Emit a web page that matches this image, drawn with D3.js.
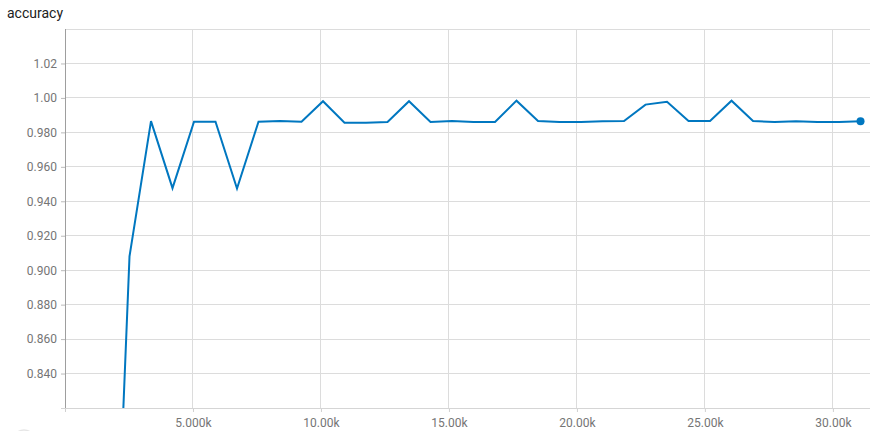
<!DOCTYPE html>
<html><head><meta charset="utf-8">
<script src="https://cdn.jsdelivr.net/npm/d3@7"></script>
<style>body{margin:0;background:#fff;}svg{display:block;font-family:Roboto,"Helvetica Neue",Arial,sans-serif;}</style>
</head><body>
<svg id="chart" width="872" height="431"></svg>
<script>
const steps = [1680, 2520, 3360, 4200, 5040, 5880, 6720, 7560, 8400, 9240, 10080, 10920, 11760, 12600, 13440, 14280, 15120, 15960, 16800, 17640, 18480, 19320, 20160, 21000, 21840, 22680, 23520, 24360, 25200, 26040, 26880, 27720, 28560, 29400, 30240, 31080];
const accuracy = [0.60, 0.908, 0.9865, 0.9476, 0.9862, 0.9862, 0.9474, 0.9862, 0.9866, 0.9862, 0.9981, 0.9856, 0.9856, 0.9860, 0.9981, 0.9860, 0.9866, 0.9860, 0.9860, 0.9984, 0.9866, 0.9860, 0.9860, 0.9865, 0.9866, 0.9961, 0.9977, 0.9866, 0.9866, 0.9984, 0.9866, 0.9860, 0.9865, 0.9860, 0.9860, 0.9865];
const xTicks = [5000, 10000, 15000, 20000, 25000, 30000];
const xTickLabels = ["5.000k", "10.00k", "15.00k", "20.00k", "25.00k", "30.00k"];
const yTicks = [0.84, 0.86, 0.88, 0.90, 0.92, 0.94, 0.96, 0.98, 1.00, 1.02];
const yTickLabels = ["0.840", "0.860", "0.880", "0.900", "0.920", "0.940", "0.960", "0.980", "1.00", "1.02"];
const yGrid = [0.84, 0.86, 0.88, 0.90, 0.92, 0.94, 0.96, 0.98, 1.00, 1.02, 1.04];
const title = "accuracy";

const svg = d3.select("#chart");
const L = 65, R = 870, T = 29, B = 408;
const x = d3.scaleLinear().domain([0, 31450]).range([L, R]);
const y = d3.scaleLinear().domain([0.82, 1.04]).range([B, T]);

svg.append("text").attr("x", 7).attr("y", 18).attr("font-size", 14).attr("fill", "#212121").text(title);

// horizontal grid
svg.append("g").selectAll("line").data(yGrid).join("line")
  .attr("x1", L).attr("x2", R).attr("y1", d => y(d)).attr("y2", d => y(d))
  .attr("stroke", "#dcdcdc").attr("stroke-width", 1).attr("shape-rendering", "crispEdges");
// vertical grid
svg.append("g").selectAll("line").data(xTicks).join("line")
  .attr("x1", d => x(d)).attr("x2", d => x(d)).attr("y1", T).attr("y2", B)
  .attr("stroke", "#dcdcdc").attr("stroke-width", 1).attr("shape-rendering", "crispEdges");

// y axis
const yAxis = d3.axisLeft(y).tickValues(yTicks).tickSize(4).tickPadding(4)
  .tickFormat((d, i) => yTickLabels[i]);
const gy = svg.append("g").attr("transform", `translate(${L},0)`).call(yAxis);
gy.select(".domain").remove();
gy.selectAll(".tick line").attr("stroke", "#bbb");
gy.selectAll(".tick text").attr("fill", "#757575").attr("font-size", 12).attr("font-family", "Roboto, sans-serif");
svg.append("line").attr("x1", L).attr("x2", L).attr("y1", T).attr("y2", B + 4)
  .attr("stroke", "#9e9e9e").attr("shape-rendering", "crispEdges");

// x axis
const xAxis = d3.axisBottom(x).tickValues([0].concat(xTicks)).tickSize(4).tickPadding(6)
  .tickFormat((d, i) => i === 0 ? "" : xTickLabels[i - 1]);
const gx = svg.append("g").attr("transform", `translate(0,${B})`).call(xAxis);
gx.select(".domain").remove();
gx.selectAll(".tick line").attr("stroke", "#d0d0d0");
gx.selectAll(".tick text").attr("fill", "#757575").attr("font-size", 12).attr("font-family", "Roboto, sans-serif");
svg.append("line").attr("x1", L - 4).attr("x2", R).attr("y1", B).attr("y2", B)
  .attr("stroke", "#d5d5d5").attr("shape-rendering", "crispEdges");

// clip
svg.append("clipPath").attr("id", "clip").append("rect")
  .attr("x", L).attr("y", T).attr("width", R - L).attr("height", B - T);

const data = steps.map((s, i) => ({s, v: accuracy[i]}));
const line = d3.line().x(d => x(d.s)).y(d => y(d.v));
svg.append("path").datum(data).attr("clip-path", "url(#clip)")
  .attr("fill", "none").attr("stroke", "#0077c0").attr("stroke-width", 2)
  .attr("stroke-linejoin", "miter").attr("d", line);

const last = data[data.length - 1];
svg.append("circle").attr("cx", x(last.s)).attr("cy", y(last.v)).attr("r", 4).attr("fill", "#0077c0");

// faint cut-off icon at bottom-left
svg.append("circle").attr("cx", 24).attr("cy", 441).attr("r", 11)
  .attr("fill", "none").attr("stroke", "#e6e6e6").attr("stroke-width", 1.5);
</script>
</body></html>
